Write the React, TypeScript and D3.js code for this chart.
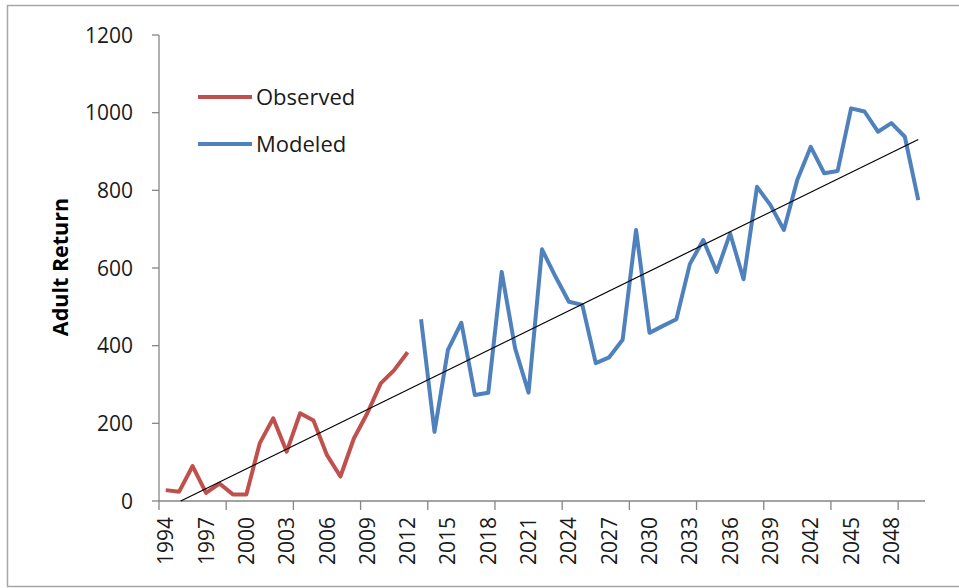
import React from "react";
import * as d3 from "d3";

// Years on the category axis, 1994 through 2050
const years: number[] = d3.range(1994, 2051);

// Observed adult returns, 1994–2012
const observed: number[] = [
  28, 24, 90, 21, 45, 17, 17, 149, 213, 127, 226, 207, 118, 63, 161, 226, 303, 337, 383,
];

// Modeled adult returns, 2013–2050
const modeled: number[] = [
  468, 178, 389, 459, 273, 279, 590, 393, 279, 648, 578, 513, 505, 355, 370, 415, 698,
  433, 451, 468, 610, 672, 590, 689, 571, 809, 762, 698, 827, 912, 844, 850, 1011, 1003,
  951, 973, 938, 775,
];
const modeledStart = 2013;

// Linear trend line values at the first and last year
const trendEnds: [number, number] = [-19, 931];

const yTicks: number[] = [0, 200, 400, 600, 800, 1000, 1200];
const legendItems = [
  { name: "Observed", color: "#c0504d" },
  { name: "Modeled", color: "#4f81bd" },
];

const W = 959;
const H = 588;
const plot = { left: 159, right: 925, top: 35, bottom: 501 };
const FONT = "'Open Sans', 'Noto Sans', sans-serif";

export default function App() {
  const x = d3
    .scaleBand<number>()
    .domain(years)
    .range([plot.left, plot.right])
    .paddingInner(0)
    .paddingOuter(0);
  const bw = x.bandwidth();
  const cx = (yr: number) => (x(yr) as number) + bw / 2;
  const y = d3.scaleLinear().domain([0, 1200]).range([plot.bottom, plot.top]);

  const line = d3
    .line<[number, number]>()
    .x((d) => cx(d[0]))
    .y((d) => y(d[1]));

  const obsPts: [number, number][] = observed.map((v, i) => [1994 + i, v]);
  const modPts: [number, number][] = modeled.map((v, i) => [modeledStart + i, v]);

  // trend line, clipped where it would fall below zero
  const y0 = years[0];
  const y1 = years[years.length - 1];
  const slope = (trendEnds[1] - trendEnds[0]) / (y1 - y0);
  const zeroYear = y0 - trendEnds[0] / slope;
  const tx0 = cx(y0) + (zeroYear - y0) * bw;
  const tx1 = cx(y1);

  const tickYears = years.filter((_, i) => i % 5 === 0);
  const labelYears = years.filter((_, i) => i % 3 === 0 && years[i] <= 2048);

  return (
    <svg
      width={W}
      height={H}
      style={{ position: "absolute", left: 0, top: 0, background: "#fff" }}
      fontFamily={FONT}
    >
      <rect x={7.5} y={5.5} width={W} height={581} fill="#fff" stroke="#a6a6a6" strokeWidth={1.5} />

      {/* y axis */}
      <line x1={plot.left} x2={plot.left} y1={plot.top} y2={plot.bottom} stroke="#868686" strokeWidth={1.3} />
      {yTicks.map((t) => (
        <g key={t}>
          <line x1={plot.left - 7} x2={plot.left} y1={y(t)} y2={y(t)} stroke="#868686" strokeWidth={1.3} />
          <text x={133} y={y(t)} dy="0.36em" textAnchor="end" fontSize={21} fill="#1a1a1a">
            {t}
          </text>
        </g>
      ))}
      <text
        transform={`translate(${60},${267}) rotate(-90)`}
        dy="0.36em"
        textAnchor="middle"
        fontSize={21.5}
        fontWeight="bold"
        fill="#000"
      >
        Adult Return
      </text>

      {/* x axis */}
      <line x1={plot.left} x2={plot.right} y1={plot.bottom} y2={plot.bottom} stroke="#868686" strokeWidth={1.3} />
      {tickYears.map((yr) => (
        <line
          key={yr}
          x1={x(yr) as number}
          x2={x(yr) as number}
          y1={plot.bottom}
          y2={plot.bottom + 9}
          stroke="#868686"
          strokeWidth={1.3}
        />
      ))}
      {labelYears.map((yr) => (
        <text
          key={yr}
          transform={`translate(${cx(yr)},${517}) rotate(-90)`}
          dy="0.36em"
          textAnchor="end"
          fontSize={21}
          fill="#1a1a1a"
        >
          {yr}
        </text>
      ))}

      {/* series */}
      <path d={line(obsPts) || ""} fill="none" stroke={legendItems[0].color} strokeWidth={4} strokeLinejoin="round" />
      <path d={line(modPts) || ""} fill="none" stroke={legendItems[1].color} strokeWidth={4} strokeLinejoin="round" />

      {/* trend */}
      <line x1={tx0} y1={y(0)} x2={tx1} y2={y(trendEnds[1])} stroke="#000" strokeWidth={1.2} />

      {/* legend */}
      {legendItems.map((it, i) => (
        <g key={it.name}>
          <line x1={198} x2={252} y1={97 + i * 47} y2={97 + i * 47} stroke={it.color} strokeWidth={4} />
          <text x={256} y={97 + i * 47} dy="0.36em" fontSize={22} fill="#1a1a1a">
            {it.name}
          </text>
        </g>
      ))}
    </svg>
  );
}
